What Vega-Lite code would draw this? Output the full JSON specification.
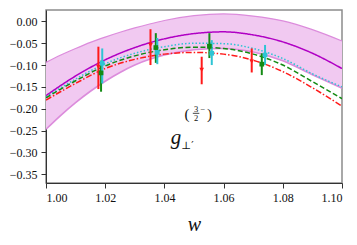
{
  "$schema": "https://vega.github.io/schema/vega-lite/v6.json",
  "width": 296,
  "height": 173,
  "autosize": "none",
  "padding": {"left": 46, "top": 10, "right": 15, "bottom": 62},
  "config": {
    "view": {"stroke": "#8c8c8c", "strokeWidth": 1.5},
    "axis": {"labelFont": "Liberation Serif", "labelFontSize": 12, "labelColor": "#111", "domainColor": "#333", "tickColor": "#333", "tickSize": 5, "labelPadding": 4, "grid": false, "titleFont": "Liberation Serif", "labelOverlap": false}
  },
  "datasets": {
    "band": [
      {"w": 1.000, "lo": -0.247, "hi": -0.094},
      {"w": 1.005, "lo": -0.215, "hi": -0.077},
      {"w": 1.010, "lo": -0.186, "hi": -0.062},
      {"w": 1.015, "lo": -0.160, "hi": -0.048},
      {"w": 1.020, "lo": -0.137, "hi": -0.036},
      {"w": 1.025, "lo": -0.117, "hi": -0.025},
      {"w": 1.030, "lo": -0.100, "hi": -0.015},
      {"w": 1.035, "lo": -0.087, "hi": -0.006},
      {"w": 1.040, "lo": -0.077, "hi": 0.002},
      {"w": 1.050, "lo": -0.065, "hi": 0.013},
      {"w": 1.060, "lo": -0.062, "hi": 0.017},
      {"w": 1.070, "lo": -0.070, "hi": 0.012},
      {"w": 1.080, "lo": -0.090, "hi": 0.001},
      {"w": 1.090, "lo": -0.122, "hi": -0.019},
      {"w": 1.100, "lo": -0.153, "hi": -0.045}
    ],
    "curves": [
      {"w": 1.00, "fit": "A", "v": -0.170}, {"w": 1.01, "fit": "A", "v": -0.125}, {"w": 1.02, "fit": "A", "v": -0.088}, {"w": 1.03, "fit": "A", "v": -0.060}, {"w": 1.04, "fit": "A", "v": -0.040}, {"w": 1.05, "fit": "A", "v": -0.028}, {"w": 1.06, "fit": "A", "v": -0.024}, {"w": 1.07, "fit": "A", "v": -0.031}, {"w": 1.08, "fit": "A", "v": -0.047}, {"w": 1.09, "fit": "A", "v": -0.073}, {"w": 1.10, "fit": "A", "v": -0.108},
      {"w": 1.00, "fit": "B", "v": -0.173}, {"w": 1.01, "fit": "B", "v": -0.132}, {"w": 1.02, "fit": "B", "v": -0.097}, {"w": 1.03, "fit": "B", "v": -0.073}, {"w": 1.04, "fit": "B", "v": -0.058}, {"w": 1.05, "fit": "B", "v": -0.050}, {"w": 1.06, "fit": "B", "v": -0.051}, {"w": 1.07, "fit": "B", "v": -0.062}, {"w": 1.08, "fit": "B", "v": -0.085}, {"w": 1.09, "fit": "B", "v": -0.120}, {"w": 1.10, "fit": "B", "v": -0.150},
      {"w": 1.00, "fit": "C", "v": -0.175}, {"w": 1.01, "fit": "C", "v": -0.136}, {"w": 1.02, "fit": "C", "v": -0.102}, {"w": 1.03, "fit": "C", "v": -0.079}, {"w": 1.04, "fit": "C", "v": -0.065}, {"w": 1.05, "fit": "C", "v": -0.059}, {"w": 1.06, "fit": "C", "v": -0.062}, {"w": 1.07, "fit": "C", "v": -0.075}, {"w": 1.08, "fit": "C", "v": -0.100}, {"w": 1.09, "fit": "C", "v": -0.138}, {"w": 1.10, "fit": "C", "v": -0.177},
      {"w": 1.00, "fit": "D", "v": -0.180}, {"w": 1.01, "fit": "D", "v": -0.142}, {"w": 1.02, "fit": "D", "v": -0.108}, {"w": 1.03, "fit": "D", "v": -0.087}, {"w": 1.04, "fit": "D", "v": -0.075}, {"w": 1.05, "fit": "D", "v": -0.071}, {"w": 1.06, "fit": "D", "v": -0.075}, {"w": 1.07, "fit": "D", "v": -0.089}, {"w": 1.08, "fit": "D", "v": -0.115}, {"w": 1.09, "fit": "D", "v": -0.152}, {"w": 1.10, "fit": "D", "v": -0.194}
    ],
    "points": [
      {"w": 1.0177, "set": "D", "v": -0.104, "lo": -0.155, "hi": -0.058},
      {"w": 1.0186, "set": "C", "v": -0.118, "lo": -0.161, "hi": -0.090},
      {"w": 1.0190, "set": "B", "v": -0.096, "lo": -0.142, "hi": -0.062},
      {"w": 1.0353, "set": "D", "v": -0.054, "lo": -0.100, "hi": -0.018},
      {"w": 1.0371, "set": "C", "v": -0.060, "lo": -0.095, "hi": -0.027},
      {"w": 1.0376, "set": "B", "v": -0.071, "lo": -0.098, "hi": -0.038},
      {"w": 1.0526, "set": "D", "v": -0.111, "lo": -0.144, "hi": -0.081},
      {"w": 1.0552, "set": "C", "v": -0.057, "lo": -0.084, "hi": -0.027},
      {"w": 1.0560, "set": "B", "v": -0.073, "lo": -0.100, "hi": -0.043},
      {"w": 1.0695, "set": "D", "v": -0.092, "lo": -0.117, "hi": -0.062},
      {"w": 1.0729, "set": "C", "v": -0.098, "lo": -0.123, "hi": -0.073},
      {"w": 1.0740, "set": "B", "v": -0.077, "lo": -0.100, "hi": -0.054}
    ],
    "one": [{}]
  },
  "layer": [
    {
      "data": {"name": "band"},
      "mark": {"type": "area", "color": "#f1c9f1", "opacity": 1, "interpolate": "monotone"},
      "encoding": {
        "x": {"field": "w", "type": "quantitative", "scale": {"domain": [1.0, 1.1], "nice": false, "zero": false},
              "axis": {"values": [1.0, 1.02, 1.04, 1.06, 1.08, 1.1], "format": ".2f", "labelFont": "Liberation Serif", "labelFontSize": 12, "labelColor": "#111", "labelOverlap": false, "title": "w", "titleFont": "Liberation Serif", "titleFontSize": 20, "titleFontStyle": "italic", "titleFontWeight": "normal", "titlePadding": 11, "titleColor": "#111"}},
        "y": {"field": "lo", "type": "quantitative", "scale": {"domain": [-0.37, 0.026], "nice": false, "zero": false},
              "axis": {"values": [-0.35, -0.3, -0.25, -0.2, -0.15, -0.1, -0.05, 0], "format": ".2f", "labelFont": "Liberation Serif", "labelFontSize": 12, "labelColor": "#111", "labelOverlap": false, "title": null}},
        "y2": {"field": "hi"}
      }
    },
    {
      "data": {"name": "band"},
      "mark": {"type": "line", "color": "#dc8cdc", "strokeWidth": 1.2, "interpolate": "monotone"},
      "encoding": {
        "x": {"field": "w", "type": "quantitative", "axis": {"values": [1.0, 1.02, 1.04, 1.06, 1.08, 1.1], "format": ".2f", "labelFont": "Liberation Serif", "labelFontSize": 12, "labelColor": "#111", "labelOverlap": false, "title": "w", "titleFont": "Liberation Serif", "titleFontSize": 20, "titleFontStyle": "italic", "titleFontWeight": "normal", "titlePadding": 11, "titleColor": "#111"}},
        "y": {"field": "hi", "type": "quantitative", "axis": {"values": [-0.35, -0.3, -0.25, -0.2, -0.15, -0.1, -0.05, 0], "format": ".2f", "labelFont": "Liberation Serif", "labelFontSize": 12, "labelColor": "#111", "labelOverlap": false, "title": null}}
      }
    },
    {
      "data": {"name": "band"},
      "mark": {"type": "line", "color": "#dc8cdc", "strokeWidth": 1.6, "interpolate": "monotone"},
      "encoding": {
        "x": {"field": "w", "type": "quantitative", "axis": {"values": [1.0, 1.02, 1.04, 1.06, 1.08, 1.1], "format": ".2f", "labelFont": "Liberation Serif", "labelFontSize": 12, "labelColor": "#111", "labelOverlap": false, "title": "w", "titleFont": "Liberation Serif", "titleFontSize": 20, "titleFontStyle": "italic", "titleFontWeight": "normal", "titlePadding": 11, "titleColor": "#111"}},
        "y": {"field": "lo", "type": "quantitative", "axis": {"values": [-0.35, -0.3, -0.25, -0.2, -0.15, -0.1, -0.05, 0], "format": ".2f", "labelFont": "Liberation Serif", "labelFontSize": 12, "labelColor": "#111", "labelOverlap": false, "title": null}}
      }
    },
    {
      "data": {"name": "curves"},
      "mark": {"type": "line", "strokeWidth": 1.5, "interpolate": "monotone", "clip": true},
      "encoding": {
        "x": {"field": "w", "type": "quantitative", "axis": {"values": [1.0, 1.02, 1.04, 1.06, 1.08, 1.1], "format": ".2f", "labelFont": "Liberation Serif", "labelFontSize": 12, "labelColor": "#111", "labelOverlap": false, "title": "w", "titleFont": "Liberation Serif", "titleFontSize": 20, "titleFontStyle": "italic", "titleFontWeight": "normal", "titlePadding": 11, "titleColor": "#111"}},
        "y": {"field": "v", "type": "quantitative", "axis": {"values": [-0.35, -0.3, -0.25, -0.2, -0.15, -0.1, -0.05, 0], "format": ".2f", "labelFont": "Liberation Serif", "labelFontSize": 12, "labelColor": "#111", "labelOverlap": false, "title": null}},
        "color": {"field": "fit", "type": "nominal", "scale": {"domain": ["A", "B", "C", "D"], "range": ["#b000c4", "#2ec4d4", "#138a13", "#ff1a1a"]}, "legend": null},
        "strokeDash": {"field": "fit", "type": "nominal", "scale": {"domain": ["A", "B", "C", "D"], "range": [[1, 0], [1.5, 2], [5, 2.5], [6, 2, 1.5, 2]]}, "legend": null}
      }
    },
    {
      "data": {"name": "points"},
      "mark": {"type": "rule", "strokeWidth": 2},
      "encoding": {
        "x": {"field": "w", "type": "quantitative", "axis": {"values": [1.0, 1.02, 1.04, 1.06, 1.08, 1.1], "format": ".2f", "labelFont": "Liberation Serif", "labelFontSize": 12, "labelColor": "#111", "labelOverlap": false, "title": "w", "titleFont": "Liberation Serif", "titleFontSize": 20, "titleFontStyle": "italic", "titleFontWeight": "normal", "titlePadding": 11, "titleColor": "#111"}},
        "y": {"field": "lo", "type": "quantitative", "axis": {"values": [-0.35, -0.3, -0.25, -0.2, -0.15, -0.1, -0.05, 0], "format": ".2f", "labelFont": "Liberation Serif", "labelFontSize": 12, "labelColor": "#111", "labelOverlap": false, "title": null}},
        "y2": {"field": "hi"},
        "color": {"field": "set", "type": "nominal", "scale": {"domain": ["A", "B", "C", "D"], "range": ["#b000c4", "#2ec4d4", "#138a13", "#ff1a1a"]}, "legend": null}
      }
    },
    {
      "data": {"name": "points"},
      "mark": {"type": "point", "filled": true, "size": 22, "opacity": 1},
      "encoding": {
        "x": {"field": "w", "type": "quantitative", "axis": {"values": [1.0, 1.02, 1.04, 1.06, 1.08, 1.1], "format": ".2f", "labelFont": "Liberation Serif", "labelFontSize": 12, "labelColor": "#111", "labelOverlap": false, "title": "w", "titleFont": "Liberation Serif", "titleFontSize": 20, "titleFontStyle": "italic", "titleFontWeight": "normal", "titlePadding": 11, "titleColor": "#111"}},
        "y": {"field": "v", "type": "quantitative", "axis": {"values": [-0.35, -0.3, -0.25, -0.2, -0.15, -0.1, -0.05, 0], "format": ".2f", "labelFont": "Liberation Serif", "labelFontSize": 12, "labelColor": "#111", "labelOverlap": false, "title": null}},
        "color": {"field": "set", "type": "nominal", "scale": {"domain": ["A", "B", "C", "D"], "range": ["#b000c4", "#2ec4d4", "#138a13", "#ff1a1a"]}, "legend": null},
        "shape": {"field": "set", "type": "nominal", "scale": {"domain": ["B", "C", "D"], "range": ["square", "square", "triangle-down"]}, "legend": null}
      }
    },
    {
      "data": {"name": "one"},
      "mark": {"type": "text", "text": "g", "font": "Liberation Serif", "fontStyle": "italic", "fontSize": 21, "align": "center", "baseline": "alphabetic", "color": "#111"},
      "encoding": {
        "x": {"datum": 1.0439, "type": "quantitative", "axis": {"values": [1.0, 1.02, 1.04, 1.06, 1.08, 1.1], "format": ".2f", "labelFont": "Liberation Serif", "labelFontSize": 12, "labelColor": "#111", "labelOverlap": false, "title": "w", "titleFont": "Liberation Serif", "titleFontSize": 20, "titleFontStyle": "italic", "titleFontWeight": "normal", "titlePadding": 11, "titleColor": "#111"}},
        "y": {"datum": -0.281, "type": "quantitative", "axis": {"values": [-0.35, -0.3, -0.25, -0.2, -0.15, -0.1, -0.05, 0], "format": ".2f", "labelFont": "Liberation Serif", "labelFontSize": 12, "labelColor": "#111", "labelOverlap": false, "title": null}}
      }
    },
    {
      "data": {"name": "one"},
      "mark": {"type": "text", "text": "⊥′", "font": "DejaVu Serif", "fontSize": 10.5, "align": "left", "baseline": "alphabetic", "color": "#111"},
      "encoding": {
        "x": {"datum": 1.0457, "type": "quantitative", "axis": {"values": [1.0, 1.02, 1.04, 1.06, 1.08, 1.1], "format": ".2f", "labelFont": "Liberation Serif", "labelFontSize": 12, "labelColor": "#111", "labelOverlap": false, "title": "w", "titleFont": "Liberation Serif", "titleFontSize": 20, "titleFontStyle": "italic", "titleFontWeight": "normal", "titlePadding": 11, "titleColor": "#111"}},
        "y": {"datum": -0.293, "type": "quantitative", "axis": {"values": [-0.35, -0.3, -0.25, -0.2, -0.15, -0.1, -0.05, 0], "format": ".2f", "labelFont": "Liberation Serif", "labelFontSize": 12, "labelColor": "#111", "labelOverlap": false, "title": null}}
      }
    },
    {
      "data": {"name": "one"},
      "mark": {"type": "text", "text": "(", "font": "Liberation Serif", "fontSize": 15, "align": "center", "baseline": "middle", "color": "#111"},
      "encoding": {
        "x": {"datum": 1.0476, "type": "quantitative", "axis": {"values": [1.0, 1.02, 1.04, 1.06, 1.08, 1.1], "format": ".2f", "labelFont": "Liberation Serif", "labelFontSize": 12, "labelColor": "#111", "labelOverlap": false, "title": "w", "titleFont": "Liberation Serif", "titleFontSize": 20, "titleFontStyle": "italic", "titleFontWeight": "normal", "titlePadding": 11, "titleColor": "#111"}},
        "y": {"datum": -0.211, "type": "quantitative", "axis": {"values": [-0.35, -0.3, -0.25, -0.2, -0.15, -0.1, -0.05, 0], "format": ".2f", "labelFont": "Liberation Serif", "labelFontSize": 12, "labelColor": "#111", "labelOverlap": false, "title": null}}
      }
    },
    {
      "data": {"name": "one"},
      "mark": {"type": "text", "text": "3", "font": "Liberation Serif", "fontSize": 8.5, "align": "center", "baseline": "alphabetic", "color": "#111"},
      "encoding": {
        "x": {"datum": 1.0507, "type": "quantitative", "axis": {"values": [1.0, 1.02, 1.04, 1.06, 1.08, 1.1], "format": ".2f", "labelFont": "Liberation Serif", "labelFontSize": 12, "labelColor": "#111", "labelOverlap": false, "title": "w", "titleFont": "Liberation Serif", "titleFontSize": 20, "titleFontStyle": "italic", "titleFontWeight": "normal", "titlePadding": 11, "titleColor": "#111"}},
        "y": {"datum": -0.208, "type": "quantitative", "axis": {"values": [-0.35, -0.3, -0.25, -0.2, -0.15, -0.1, -0.05, 0], "format": ".2f", "labelFont": "Liberation Serif", "labelFontSize": 12, "labelColor": "#111", "labelOverlap": false, "title": null}}
      }
    },
    {
      "data": {"name": "one"},
      "mark": {"type": "rule", "strokeWidth": 0.8, "color": "#111"},
      "encoding": {
        "x": {"datum": 1.0496, "type": "quantitative", "axis": {"values": [1.0, 1.02, 1.04, 1.06, 1.08, 1.1], "format": ".2f", "labelFont": "Liberation Serif", "labelFontSize": 12, "labelColor": "#111", "labelOverlap": false, "title": "w", "titleFont": "Liberation Serif", "titleFontSize": 20, "titleFontStyle": "italic", "titleFontWeight": "normal", "titlePadding": 11, "titleColor": "#111"}},
        "x2": {"datum": 1.0518},
        "y": {"datum": -0.2105, "type": "quantitative", "axis": {"values": [-0.35, -0.3, -0.25, -0.2, -0.15, -0.1, -0.05, 0], "format": ".2f", "labelFont": "Liberation Serif", "labelFontSize": 12, "labelColor": "#111", "labelOverlap": false, "title": null}}
      }
    },
    {
      "data": {"name": "one"},
      "mark": {"type": "text", "text": "2", "font": "Liberation Serif", "fontSize": 8.5, "align": "center", "baseline": "top", "color": "#111"},
      "encoding": {
        "x": {"datum": 1.0507, "type": "quantitative", "axis": {"values": [1.0, 1.02, 1.04, 1.06, 1.08, 1.1], "format": ".2f", "labelFont": "Liberation Serif", "labelFontSize": 12, "labelColor": "#111", "labelOverlap": false, "title": "w", "titleFont": "Liberation Serif", "titleFontSize": 20, "titleFontStyle": "italic", "titleFontWeight": "normal", "titlePadding": 11, "titleColor": "#111"}},
        "y": {"datum": -0.213, "type": "quantitative", "axis": {"values": [-0.35, -0.3, -0.25, -0.2, -0.15, -0.1, -0.05, 0], "format": ".2f", "labelFont": "Liberation Serif", "labelFontSize": 12, "labelColor": "#111", "labelOverlap": false, "title": null}}
      }
    },
    {
      "data": {"name": "one"},
      "mark": {"type": "text", "text": "−", "font": "Liberation Serif", "fontSize": 8.5, "align": "center", "baseline": "middle", "color": "#111"},
      "encoding": {
        "x": {"datum": 1.053, "type": "quantitative", "axis": {"values": [1.0, 1.02, 1.04, 1.06, 1.08, 1.1], "format": ".2f", "labelFont": "Liberation Serif", "labelFontSize": 12, "labelColor": "#111", "labelOverlap": false, "title": "w", "titleFont": "Liberation Serif", "titleFontSize": 20, "titleFontStyle": "italic", "titleFontWeight": "normal", "titlePadding": 11, "titleColor": "#111"}},
        "y": {"datum": -0.2005, "type": "quantitative", "axis": {"values": [-0.35, -0.3, -0.25, -0.2, -0.15, -0.1, -0.05, 0], "format": ".2f", "labelFont": "Liberation Serif", "labelFontSize": 12, "labelColor": "#111", "labelOverlap": false, "title": null}}
      }
    },
    {
      "data": {"name": "one"},
      "mark": {"type": "text", "text": ")", "font": "Liberation Serif", "fontSize": 15, "align": "center", "baseline": "middle", "color": "#111"},
      "encoding": {
        "x": {"datum": 1.0552, "type": "quantitative", "axis": {"values": [1.0, 1.02, 1.04, 1.06, 1.08, 1.1], "format": ".2f", "labelFont": "Liberation Serif", "labelFontSize": 12, "labelColor": "#111", "labelOverlap": false, "title": "w", "titleFont": "Liberation Serif", "titleFontSize": 20, "titleFontStyle": "italic", "titleFontWeight": "normal", "titlePadding": 11, "titleColor": "#111"}},
        "y": {"datum": -0.211, "type": "quantitative", "axis": {"values": [-0.35, -0.3, -0.25, -0.2, -0.15, -0.1, -0.05, 0], "format": ".2f", "labelFont": "Liberation Serif", "labelFontSize": 12, "labelColor": "#111", "labelOverlap": false, "title": null}}
      }
    }
  ]
}
